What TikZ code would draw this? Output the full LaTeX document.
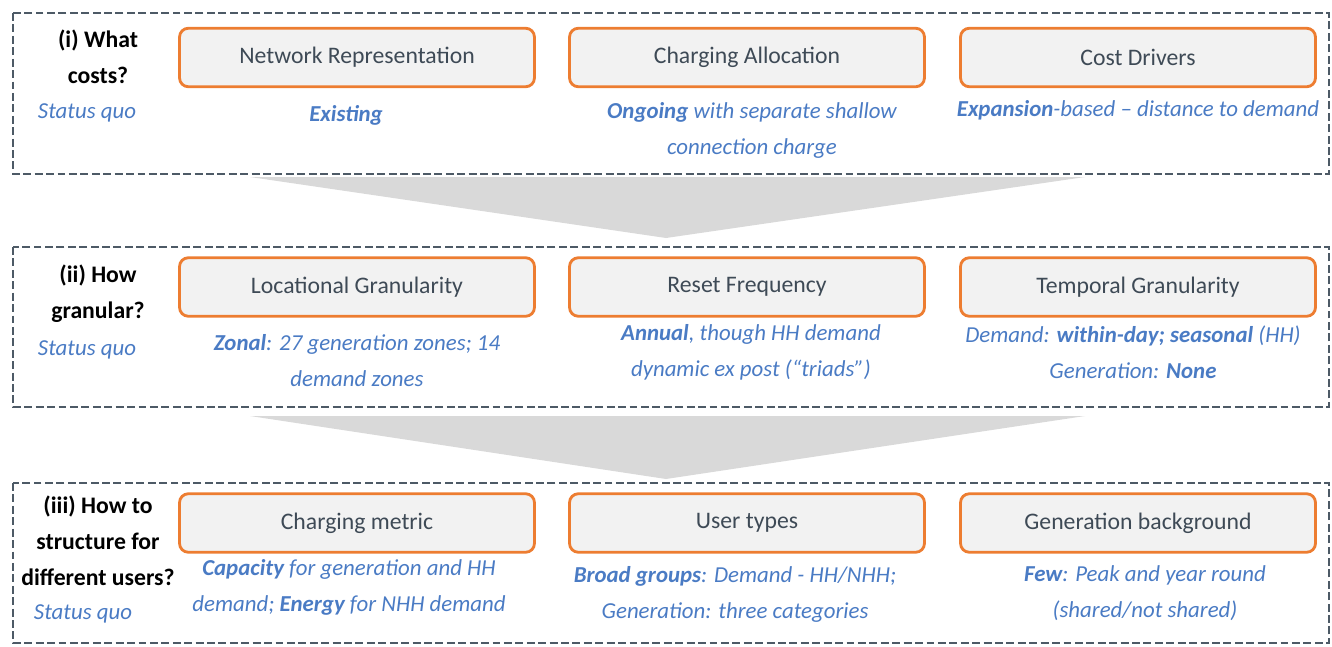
\documentclass[tikz,border=0pt]{standalone}
\usepackage{fontspec}
\setmainfont{Carlito}
\usepackage{tikz}

\definecolor{boxorange}{HTML}{ED7D31}
\definecolor{boxfill}{HTML}{F2F2F2}
\definecolor{headtext}{HTML}{3E4A56}
\definecolor{quoblue}{HTML}{4A7BC4}
\definecolor{framegray}{HTML}{4D5A66}
\definecolor{funnelgray}{HTML}{D9D9D9}

\begin{document}
\begin{tikzpicture}[x=0.02cm, y=-0.02cm,
    stage/.style={draw=framegray, line width=1.1pt, dash pattern=on 4.5pt off 2pt},
    factor/.style={draw=boxorange, fill=boxfill, line width=1.6pt, rounded corners=5pt,
        minimum width=7.1cm, minimum height=1.17cm, text=headtext,
        font=\fontsize{13.5}{16}\selectfont},
    status/.style={text=quoblue, align=center, font=\itshape\fontsize{13}{20.5}\selectfont},
    question/.style={align=center, font=\bfseries\fontsize{13.5}{20.5}\selectfont},
    funnel/.style={fill=funnelgray}]
    \useasboundingbox (0,0) rectangle (1332,646);

    % Stage frames
    \draw[stage] (13,13) rectangle (1329,174);
    \draw[stage] (13,247) rectangle (1329,407);
    \draw[stage] (13,483) rectangle (1329,643);

    % Funnels between stages
    \fill[funnel] (250,177) -- (1085,177) -- (666,238) -- cycle;
    \fill[funnel] (250,416) -- (1085,416) -- (666,479) -- cycle;

    % (i) What costs?
    \node[question] (q1) at (98,57) {(i) What\\costs?};
    \node[status] (sq1) at (87,113) {Status quo};
    \node[factor] (netrep) at (357,57.5) {Network Representation};
    \node[factor] (challoc) at (747,57.5) {Charging Allocation};
    \node[factor] (costdrv) at (1138,57.5) {Cost Drivers};
    \node[status] (netrepsq) at (346,115) {\textbf{Existing}};
    \node[status] (challocsq) at (752,130) {\textbf{Ongoing} with separate shallow\\connection charge};
    \node[status] (costdrvsq) at (1138,110) {\textbf{Expansion}-based -- distance to demand};

    % (ii) How granular?
    \node[question] (q2) at (98,294) {(ii) How\\granular?};
    \node[status] (sq2) at (87,350) {Status quo};
    \node[factor] (locgran) at (357,287) {Locational Granularity};
    \node[factor] (reset) at (747,287) {Reset Frequency};
    \node[factor] (tempgran) at (1138,287) {Temporal Granularity};
    \node[status] (locgransq) at (357,360.5) {\textbf{Zonal}: 27 generation zones; 14\\demand zones};
    \node[status] (resetsq) at (751,352.5) {\textbf{Annual}, though HH demand\\dynamic ex post (“triads”)};
    \node[status] (tempgransq) at (1133,352) {Demand: \textbf{within-day; seasonal} (HH)\\Generation: \textbf{None}};

    % (iii) How to structure for different users?
    \node[question] (q3) at (98,541) {(iii) How to\\structure for\\different users?};
    \node[status] (sq3) at (83,614) {Status quo};
    \node[factor] (chmetric) at (357,523) {Charging metric};
    \node[factor] (usertypes) at (747,523) {User types};
    \node[factor] (genback) at (1138,523) {Generation background};
    \node[status] (chmetricsq) at (349,587.5) {\textbf{Capacity} for generation and HH\\demand; \textbf{Energy} for NHH demand};
    \node[status] (usertypessq) at (735,594.5) {\textbf{Broad groups}: Demand - HH/NHH;\\Generation: three categories};
    \node[status] (genbacksq) at (1145,593) {\textbf{Few}: Peak and year round\\(shared/not shared)};
\end{tikzpicture}
\end{document}
